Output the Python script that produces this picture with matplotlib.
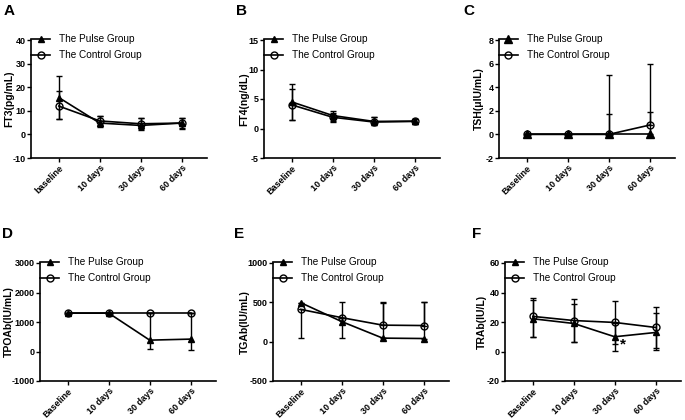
import matplotlib
matplotlib.use('Agg')
import matplotlib.pyplot as plt
from matplotlib.lines import Line2D

plt.rcParams['font.family'] = ['Liberation Sans', 'DejaVu Sans']
plt.rcParams['axes.unicode_minus'] = False

# x categories
days_a = ['baseline', '10 days', '30 days', '60 days']
days = ['Baseline', '10 days', '30 days', '60 days']

# A - FT3
ft3_pulse = [15.6, 4.8, 3.8, 4.8]
ft3_pulse_lo = [9.2, 1.7, 1.8, 2.4]
ft3_pulse_hi = [9.2, 3.0, 3.3, 2.2]
ft3_ctrl = [12.0, 5.7, 4.5, 4.8]
ft3_ctrl_lo = [5.5, 2.3, 2.3, 2.0]
ft3_ctrl_hi = [6.3, 2.1, 2.6, 2.0]

# B - FT4
ft4_pulse = [4.5, 2.2, 1.2, 1.25]
ft4_pulse_lo = [3.0, 1.0, 0.6, 0.5]
ft4_pulse_hi = [3.1, 0.7, 0.7, 0.35]
ft4_ctrl = [4.0, 1.9, 1.1, 1.2]
ft4_ctrl_lo = [2.5, 0.8, 0.5, 0.5]
ft4_ctrl_hi = [2.7, 0.7, 0.8, 0.4]

# C - TSH
tsh_pulse = [0, 0, 0, 0]
tsh_pulse_lo = [0, 0, 0, 0]
tsh_pulse_hi = [0, 0, 1.72, 1.89]
tsh_ctrl = [0, 0, 0, 0.79]
tsh_ctrl_lo = [0, 0, 0, 0]
tsh_ctrl_hi = [0, 0, 5.0, 5.15]

# D - TPOAb
tpo_pulse = [1300, 1300, 385, 420]
tpo_pulse_lo = [0, 0, 305, 363]
tpo_pulse_hi = [0, 0, 915, 880]
tpo_ctrl = [1300, 1300, 1300, 1300]
tpo_ctrl_lo = [0, 0, 0, 0]
tpo_ctrl_hi = [0, 0, 0, 0]

# E - TGAb
tg_pulse = [495, 255, 45, 40]
tg_pulse_lo = [0, 205, 0, 0]
tg_pulse_hi = [0, 245, 445, 460]
tg_ctrl = [410, 305, 210, 205]
tg_ctrl_lo = [360, 0, 0, 0]
tg_ctrl_hi = [0, 0, 290, 295]

# F - TRAb
tr_pulse = [22.2, 19.0, 10.0, 12.9]
tr_pulse_lo = [12.7, 12.7, 9.5, 11.8]
tr_pulse_hi = [13.0, 13.1, 9.5, 12.9]
tr_ctrl = [23.8, 21.0, 19.7, 16.3]
tr_ctrl_lo = [14.3, 14.5, 14.3, 14.0]
tr_ctrl_hi = [12.8, 14.5, 14.3, 14.0]

W, H = 685, 420
AX_W, AX_H = 176, 118


def rect(left, top, right, bottom):
    return [left / W, 1 - bottom / H, (right - left) / W, (bottom - top) / H]


fig = plt.figure(figsize=(6.85, 4.2), dpi=100)

panels = [
    # letter, (left px, top px), labels, ylabel, ylim, step, data, triangle size
    ('A', (31, 40), days_a, 'FT3(pg/mL)', (-10, 40), 10,
     (ft3_pulse, ft3_pulse_lo, ft3_pulse_hi, ft3_ctrl, ft3_ctrl_lo, ft3_ctrl_hi), 4.5),
    ('B', (264, 40), days, 'FT4(ng/dL)', (-5, 15), 5,
     (ft4_pulse, ft4_pulse_lo, ft4_pulse_hi, ft4_ctrl, ft4_ctrl_lo, ft4_ctrl_hi), 4.5),
    ('C', (499, 40), days, 'TSH(μIU/mL)', (-2, 8), 2,
     (tsh_pulse, tsh_pulse_lo, tsh_pulse_hi, tsh_ctrl, tsh_ctrl_lo, tsh_ctrl_hi), 6),
    ('D', (40, 263), days, 'TPOAb(IU/mL)', (-1000, 3000), 1000,
     (tpo_pulse, tpo_pulse_lo, tpo_pulse_hi, tpo_ctrl, tpo_ctrl_lo, tpo_ctrl_hi), 4.5),
    ('E', (273, 263), days, 'TGAb(IU/mL)', (-500, 1000), 500,
     (tg_pulse, tg_pulse_lo, tg_pulse_hi, tg_ctrl, tg_ctrl_lo, tg_ctrl_hi), 4.5),
    ('F', (505, 263), days, 'TRAb(IU/L)', (-20, 60), 20,
     (tr_pulse, tr_pulse_lo, tr_pulse_hi, tr_ctrl, tr_ctrl_lo, tr_ctrl_hi), 4.5),
]

letter_pos = {'A': (4, 15), 'B': (236, 15), 'C': (463, 15),
              'D': (2, 238), 'E': (234, 238), 'F': (472, 238)}
# right edge (px) of the rotated y label
ylabel_x = {'A': 14, 'B': 249, 'C': 484, 'D': 14, 'E': 250, 'F': 487}

for letter, (lx, ty), labels, ylab, ylim, step, dat, tri_ms in panels:
    ax = fig.add_axes(rect(lx, ty, lx + AX_W, ty + AX_H))
    p, plo, phi, c, clo, chi = dat
    x = range(len(labels))
    ax.errorbar(x, p, yerr=[plo, phi], color='black', marker='^', ms=tri_ms,
                lw=1.2, elinewidth=1.0, capsize=2.5, capthick=1.0, zorder=3)
    ax.errorbar(x, c, yerr=[clo, chi], color='black', marker='o', ms=5,
                mfc='none', mec='black', mew=1.0, lw=1.2, elinewidth=1.0,
                capsize=2.5, capthick=1.0, zorder=3)
    ax.set_xlim(-0.68, 3.62)
    ax.set_ylim(*ylim)
    ax.set_yticks(range(ylim[0], ylim[1] + 1, step))
    ax.set_xticks(list(x))
    ax.set_xticklabels(labels, rotation=45, ha='right', rotation_mode='anchor',
                       fontsize=6.5, fontweight='bold')
    for t in ax.get_yticklabels():
        t.set_fontsize(6.5)
        t.set_fontweight('bold')
    ax.set_ylabel(ylab, fontsize=7.5, fontweight='bold')
    ax.yaxis.set_label_coords((ylabel_x[letter] - lx) / AX_W, 0.5)
    for s in ['top', 'right']:
        ax.spines[s].set_visible(False)
    for s in ['left', 'bottom']:
        ax.spines[s].set_linewidth(1.2)
    ax.tick_params(width=1.0, length=3, pad=1)
    handles = [
        Line2D([], [], color='black', marker='^', ms=tri_ms, lw=1.2),
        Line2D([], [], color='black', marker='o', ms=5, mfc='none', lw=1.2),
    ]
    ax.legend(handles, ['The Pulse Group', 'The Control Group'],
              loc='upper left', bbox_to_anchor=(0.0, 1.05), frameon=False,
              fontsize=7.2, handlelength=1.9, handletextpad=0.9,
              labelspacing=0.6, borderaxespad=0, borderpad=0)
    if letter == 'F':
        ax.text(2.2, 4.5, '*', fontsize=11, fontweight='bold',
                ha='center', va='center')
    px, py = letter_pos[letter]
    fig.text(px / W, 1 - py / H, letter, fontsize=11, fontweight='bold',
             ha='left', va='baseline')

fig.savefig('out.png', dpi=100)
